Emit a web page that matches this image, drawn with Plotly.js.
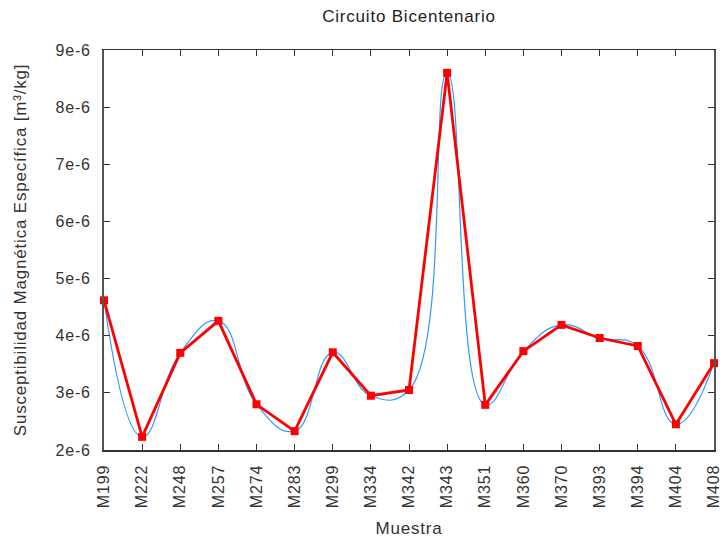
<!DOCTYPE html>
<html>
<head>
<meta charset="utf-8">
<script src="https://cdn.plot.ly/plotly-3.0.1.min.js"></script>
<style>
  html, body { margin: 0; padding: 0; background: #ffffff; }
  #chart { width: 724px; height: 541px; }
  #chart text { letter-spacing: 0.8px; }
</style>
</head>
<body>
<div id="chart"></div>
<script>
// Sample identifiers along the Bicentenario circuit
const muestras = ["M199", "M222", "M248", "M257", "M274", "M283", "M299", "M334", "M342",
                  "M343", "M351", "M360", "M370", "M393", "M394", "M404", "M408"];

// Mass-specific magnetic susceptibility [m³/kg]
const susceptibilidad = [4.62e-6, 2.23e-6, 3.70e-6, 4.26e-6, 2.80e-6, 2.33e-6, 3.71e-6, 2.95e-6, 3.05e-6,
                         8.60e-6, 2.79e-6, 3.73e-6, 4.19e-6, 3.96e-6, 3.82e-6, 2.45e-6, 3.52e-6];

// Y axis ticks
const yTickVals = [2e-6, 3e-6, 4e-6, 5e-6, 6e-6, 7e-6, 8e-6, 9e-6];
const yTickText = ["2e-6", "3e-6", "4e-6", "5e-6", "6e-6", "7e-6", "8e-6", "9e-6"];

const xIdx = muestras.map((_, i) => i);

const fontFamily = "Liberation Sans, Arial, sans-serif";
const textColor = "#333333";

const traces = [
  {
    // smoothed curve through the samples
    x: xIdx,
    y: susceptibilidad,
    mode: "lines",
    line: { color: "#3399ff", width: 1.2, shape: "spline", smoothing: 1.3 },
    hoverinfo: "skip",
    showlegend: false,
    cliponaxis: false
  },
  {
    x: xIdx,
    y: susceptibilidad,
    mode: "lines+markers",
    line: { color: "#ff0000", width: 2.8 },
    marker: { color: "#ff0000", symbol: "square", size: 8 },
    showlegend: false,
    cliponaxis: false
  }
];

const layout = {
  width: 724,
  height: 541,
  margin: { l: 104, r: 10, t: 50, b: 91 },
  paper_bgcolor: "#ffffff",
  plot_bgcolor: "#ffffff",
  font: { family: fontFamily, size: 16, color: textColor },
  title: {
    text: "Circuito Bicentenario",
    font: { family: fontFamily, size: 17, color: "#222222" },
    x: 0.5, xref: "paper", xanchor: "center",
    y: 16, yref: "container", yanchor: "middle"
  },
  xaxis: {
    range: [0, muestras.length - 1],
    tickmode: "array",
    tickvals: xIdx,
    ticktext: muestras,
    tickangle: -90,
    ticks: "inside",
    ticklen: 6,
    tickcolor: textColor,
    mirror: "ticks",
    showline: true,
    linecolor: textColor,
    linewidth: 1.5,
    showgrid: false,
    zeroline: false,
    ticklabeloverflow: "allow",
    ticklabelstandoff: 7,
    tickfont: { family: fontFamily, size: 16, color: textColor },
    title: { text: "Muestra", font: { family: fontFamily, size: 17, color: textColor }, standoff: 18 }
  },
  yaxis: {
    range: [2e-6, 9e-6],
    tickmode: "array",
    tickvals: yTickVals,
    ticktext: yTickText,
    ticks: "inside",
    ticklen: 6,
    tickcolor: textColor,
    mirror: "ticks",
    showline: true,
    linecolor: "#555555",
    linewidth: 2,
    showgrid: false,
    zeroline: false,
    ticklabeloverflow: "allow",
    ticklabelstandoff: 8,
    tickfont: { family: fontFamily, size: 16, color: textColor },
    title: { text: "Susceptibilidad Magnética Específica [m³/kg]", font: { family: fontFamily, size: 17, color: textColor }, standoff: 28 }
  }
};

// title.y given in pixels is converted to a container fraction
layout.title.y = 1 - layout.title.y / layout.height;

Plotly.newPlot("chart", traces, layout, { displayModeBar: false, staticPlot: true });
</script>
</body>
</html>
